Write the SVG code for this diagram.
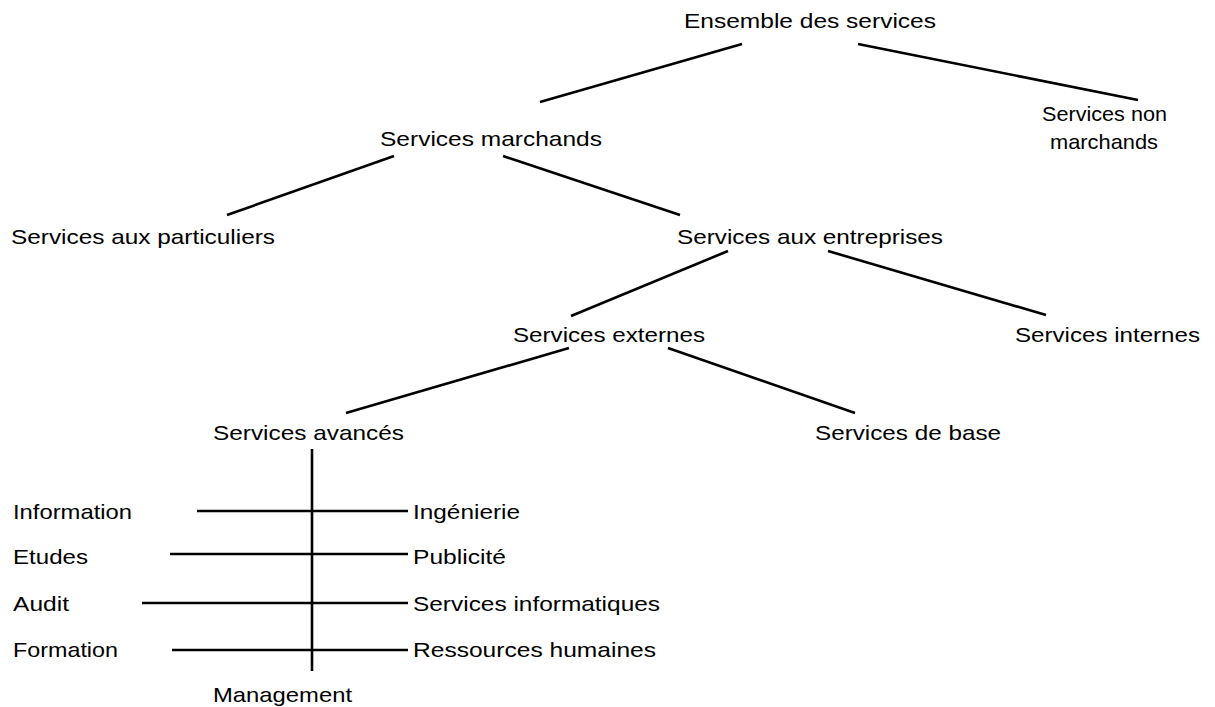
<svg xmlns="http://www.w3.org/2000/svg" width="1215" height="707" viewBox="0 0 1215 707">
<style>
text{font-family:"Liberation Sans",Arial,sans-serif;font-size:21px;fill:#000}
line{stroke:#000;stroke-width:2.6}
</style>
<rect width="1215" height="707" fill="#fff"/>
<g id="connectors">
<line x1="742" y1="44" x2="540" y2="102"/>
<line x1="858" y1="44" x2="1138" y2="100"/>
<line x1="394" y1="156" x2="227" y2="215"/>
<line x1="503" y1="156" x2="680" y2="215"/>
<line x1="728" y1="251" x2="571" y2="316"/>
<line x1="828" y1="251" x2="1046" y2="315"/>
<line x1="569" y1="348" x2="346" y2="413"/>
<line x1="668" y1="348" x2="855" y2="413"/>
<line x1="312" y1="449" x2="312" y2="671"/>
<line x1="197" y1="511" x2="408" y2="511"/>
<line x1="170" y1="554" x2="408" y2="554"/>
<line x1="142" y1="603" x2="408" y2="603"/>
<line x1="172" y1="650" x2="408" y2="650"/>
</g>
<g id="ensemble"><text x="684" y="28" textLength="252" lengthAdjust="spacingAndGlyphs">Ensemble des services</text></g>
<g id="non-marchands"><text x="1042" y="121" textLength="125" lengthAdjust="spacingAndGlyphs">Services non</text><text x="1050" y="149" textLength="108" lengthAdjust="spacingAndGlyphs">marchands</text></g>
<g id="marchands"><text x="380" y="146" textLength="222" lengthAdjust="spacingAndGlyphs">Services marchands</text></g>
<g id="particuliers"><text x="11" y="244" textLength="264" lengthAdjust="spacingAndGlyphs">Services aux particuliers</text></g>
<g id="entreprises"><text x="677" y="244" textLength="266" lengthAdjust="spacingAndGlyphs">Services aux entreprises</text></g>
<g id="externes"><text x="513" y="342" textLength="192" lengthAdjust="spacingAndGlyphs">Services externes</text></g>
<g id="internes"><text x="1015" y="342" textLength="185" lengthAdjust="spacingAndGlyphs">Services internes</text></g>
<g id="avances"><text x="213" y="440" textLength="191" lengthAdjust="spacingAndGlyphs">Services avancés</text></g>
<g id="base"><text x="815" y="440" textLength="186" lengthAdjust="spacingAndGlyphs">Services de base</text></g>
<g id="information"><text x="13" y="519" textLength="119" lengthAdjust="spacingAndGlyphs">Information</text></g>
<g id="etudes"><text x="13" y="564" textLength="75" lengthAdjust="spacingAndGlyphs">Etudes</text></g>
<g id="audit"><text x="13" y="611" textLength="56" lengthAdjust="spacingAndGlyphs">Audit</text></g>
<g id="formation"><text x="13" y="657" textLength="105" lengthAdjust="spacingAndGlyphs">Formation</text></g>
<g id="ingenierie"><text x="413" y="519" textLength="107" lengthAdjust="spacingAndGlyphs">Ingénierie</text></g>
<g id="publicite"><text x="413" y="564" textLength="93" lengthAdjust="spacingAndGlyphs">Publicité</text></g>
<g id="informatiques"><text x="413" y="611" textLength="247" lengthAdjust="spacingAndGlyphs">Services informatiques</text></g>
<g id="rh"><text x="413" y="657" textLength="243" lengthAdjust="spacingAndGlyphs">Ressources humaines</text></g>
<g id="management"><text x="213" y="702" textLength="139" lengthAdjust="spacingAndGlyphs">Management</text></g>
</svg>
